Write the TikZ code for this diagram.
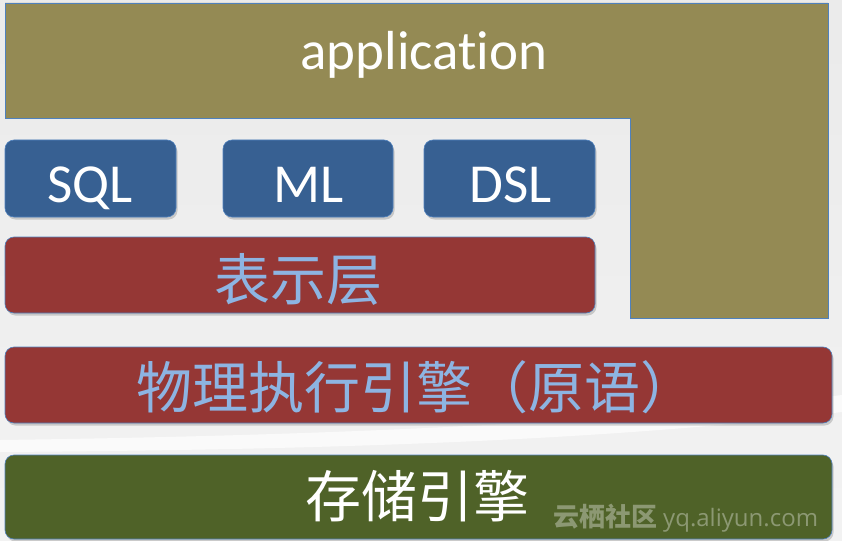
\documentclass[tikz,border=0pt]{standalone}
\usepackage{fontspec}
\setmainfont{Carlito}[Ligatures=NoCommon]
\newfontfamily\cjk{Noto Sans CJK SC}
\newfontfamily\wmfont{Open Sans}
\usetikzlibrary{shadows}
\definecolor{appcol}{HTML}{948A54}
\definecolor{bluecol}{HTML}{376092}
\definecolor{redcol}{HTML}{953735}
\definecolor{greencol}{HTML}{4F6228}
\definecolor{edgecol}{HTML}{4F81BD}
\definecolor{cjkblue}{HTML}{8DB4E2}
\begin{document}
\begin{tikzpicture}[x=1pt,y=-1pt,
  layerbox/.style={draw=edgecol, line width=0.6pt, rounded corners=9pt, inner sep=0pt,
    drop shadow={shadow xshift=1.5pt, shadow yshift=-2.5pt, opacity=0.35}},
  latinlbl/.style={anchor=base, text=white, inner sep=0pt, font=\fontsize{55}{60}\selectfont},
  cjklbl/.style={anchor=base, inner sep=0pt, font=\cjk\fontsize{56}{60}\selectfont}]
\useasboundingbox (0,0) rectangle (842,540);
% background
\shade[top color=black!8, bottom color=black!5] (0,0) rectangle (842,540);
\fill[white, opacity=0.7] (0,440) .. controls (300,436) and (600,425) .. (842,395) -- (842,412) .. controls (600,442) and (300,450) .. (0,452) -- cycle;
% application L shape
\draw[fill=appcol, draw=edgecol, line width=0.6pt] (5,3) -- (828,3) -- (828,318) -- (630,318) -- (630,118) -- (5,118) -- cycle;
\node[latinlbl] (app) at (424,70) {application};
% interface boxes
\node[layerbox, fill=bluecol, minimum width=171pt, minimum height=77pt] (sql) at (90.5,178.5) {};
\node[layerbox, fill=bluecol, minimum width=170pt, minimum height=77pt] (ml) at (308,178.5) {};
\node[layerbox, fill=bluecol, minimum width=171pt, minimum height=77pt] (dsl) at (509.5,178.5) {};
\node[latinlbl] (sqlt) at (90,202) {SQL};
\node[latinlbl] (mlt) at (309,202) {ML};
\node[latinlbl] (dslt) at (511,202) {DSL};
% presentation layer
\node[layerbox, fill=redcol, minimum width=590pt, minimum height=76pt] (pres) at (300,275) {};
\node[cjklbl, text=cjkblue] (prest) at (298,300) {表示层};
% physical execution engine
\node[layerbox, fill=redcol, minimum width=827pt, minimum height=76pt] (phys) at (418.5,385) {};
\node[cjklbl, text=cjkblue] (physt) at (416,408) {物理执行引擎（原语）};
% storage engine
\node[layerbox, fill=greencol, minimum width=827pt, minimum height=84pt] (store) at (418.5,497) {};
\node[cjklbl, text=white] (storet) at (417,517) {存储引擎};
% watermark
\node[anchor=base west, inner sep=0pt, text=white, opacity=0.35] (wm) at (553,526)
  {{\cjk\bfseries\fontsize{26}{28}\selectfont 云栖社区}\hspace{6pt}{\wmfont\fontsize{24}{28}\selectfont yq.aliyun.com}};
\end{tikzpicture}
\end{document}
